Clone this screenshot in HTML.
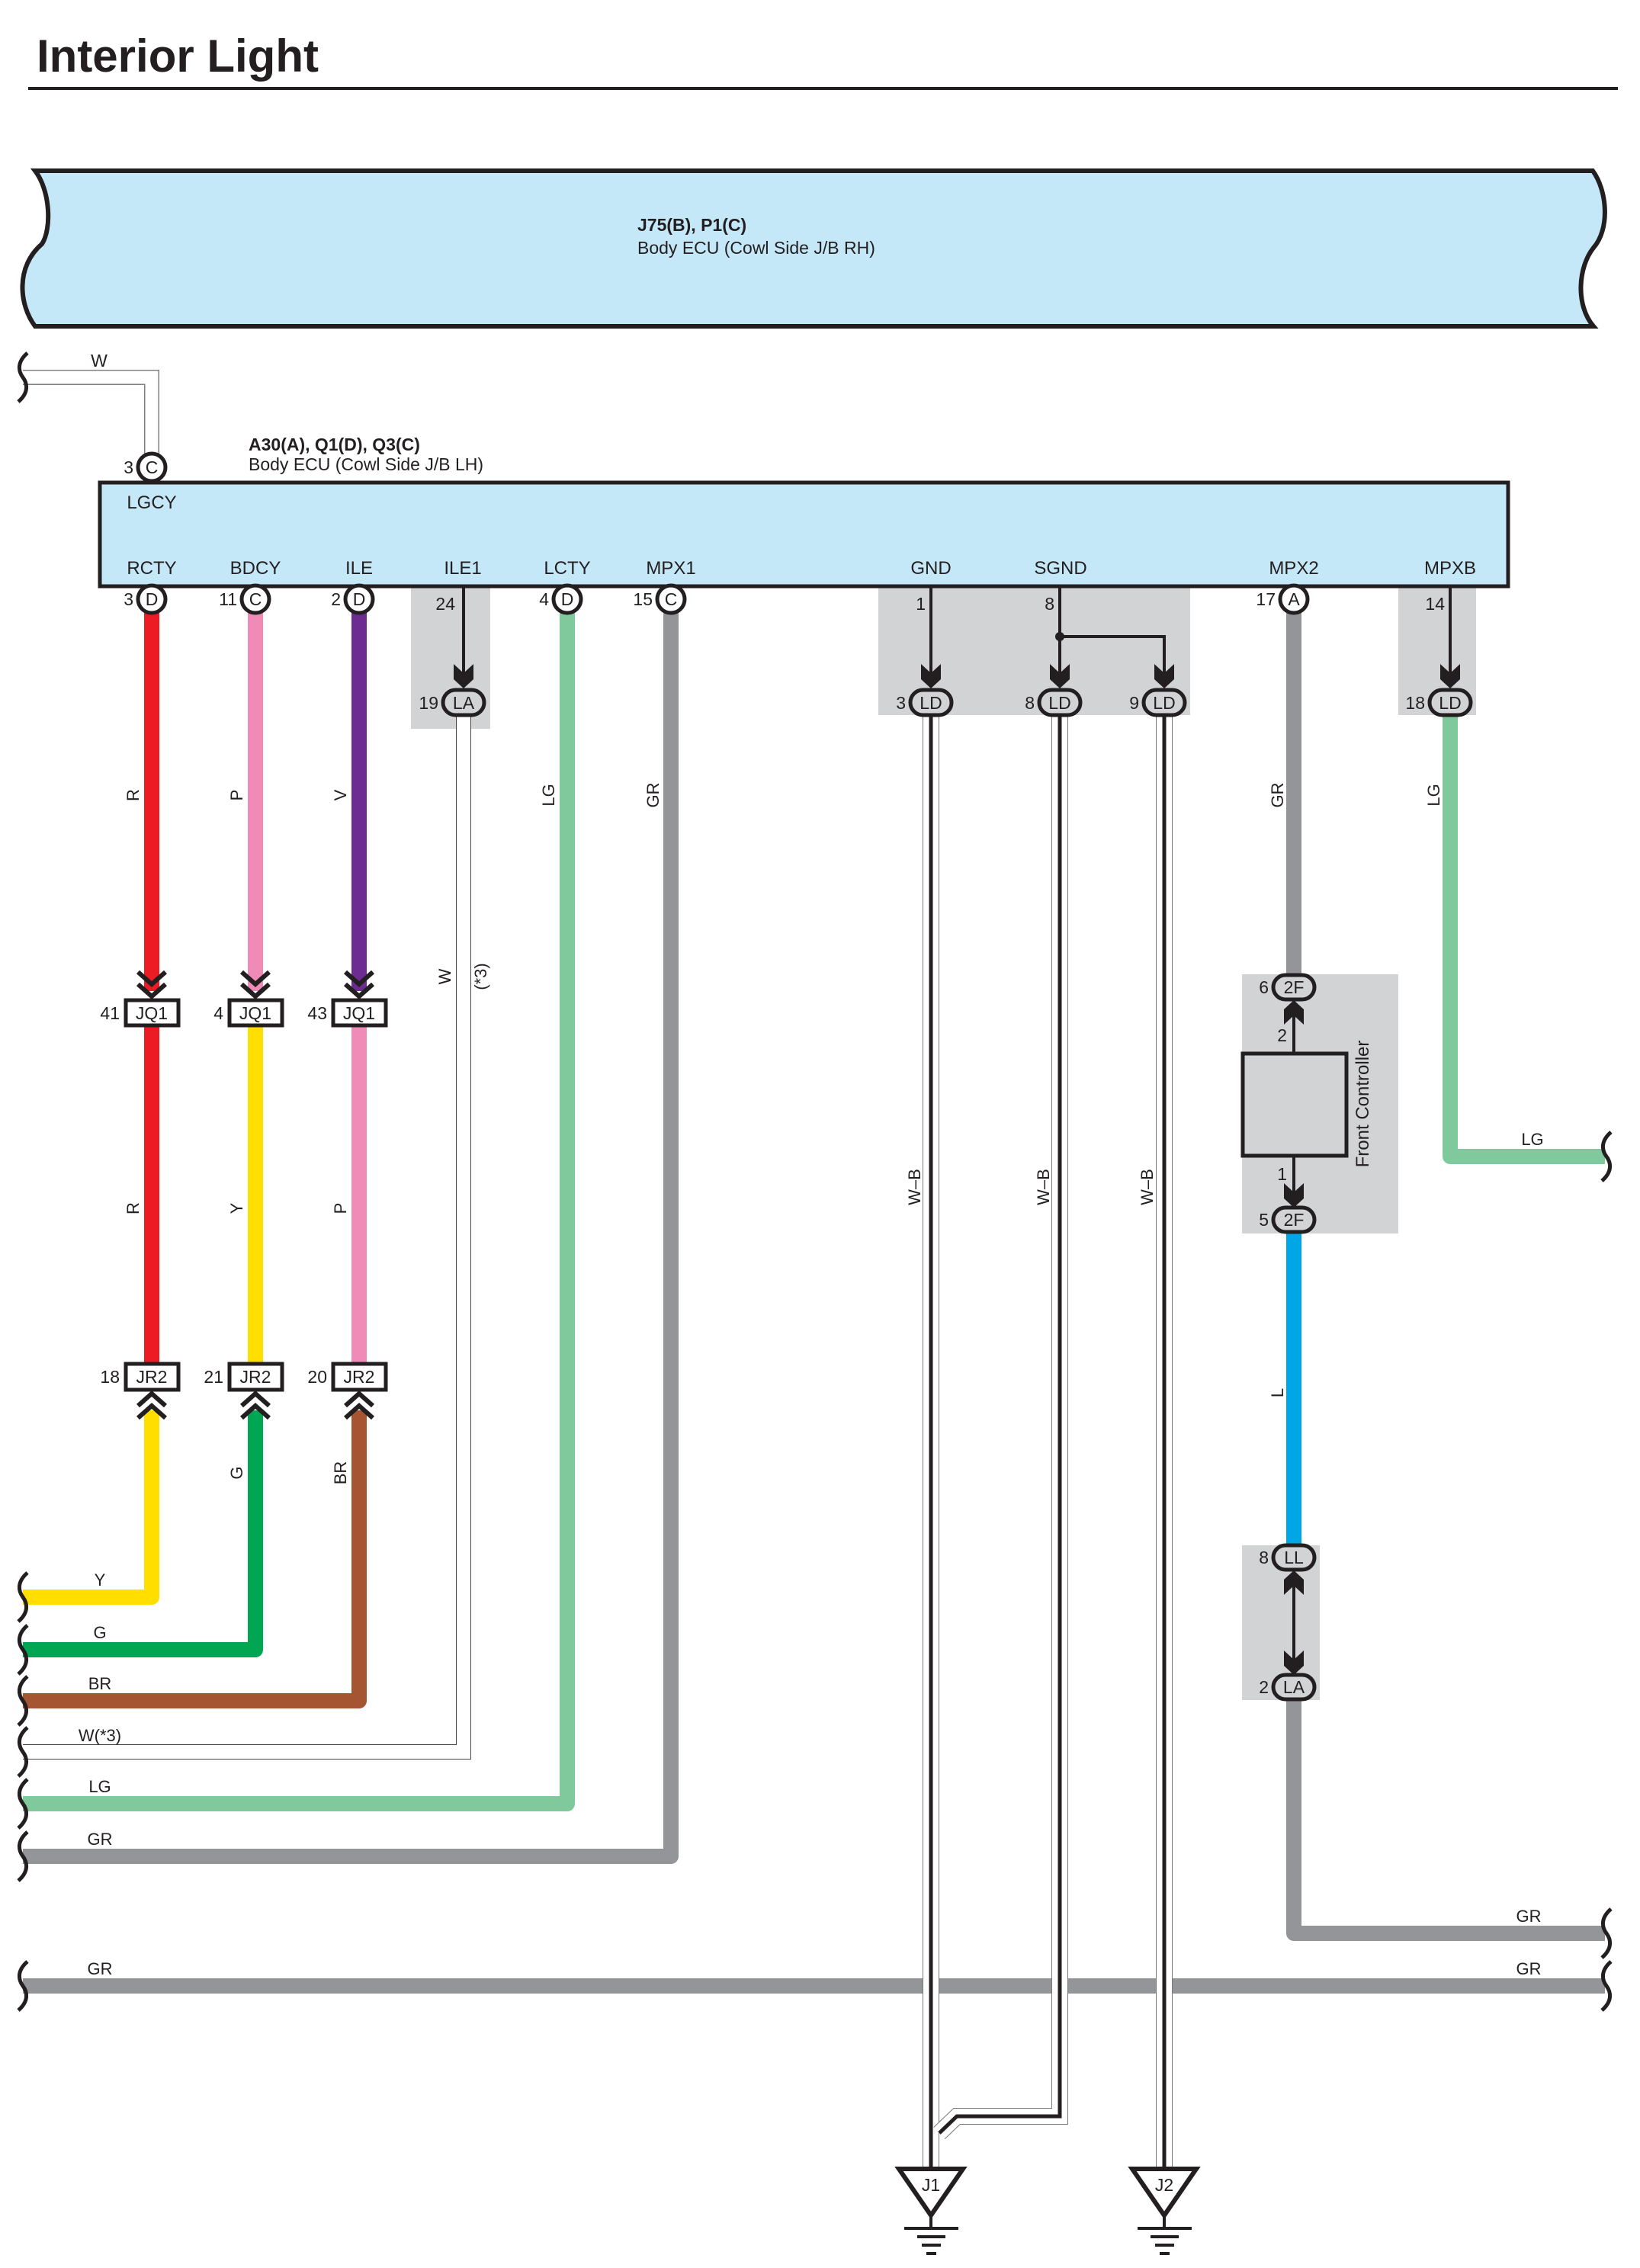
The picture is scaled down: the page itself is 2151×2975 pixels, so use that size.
<!DOCTYPE html>
<html><head><meta charset="utf-8"><style>
html,body{margin:0;padding:0;background:#fff}
svg{display:block}
text{font-family:"Liberation Sans",sans-serif;fill:#231f20}
</style></head><body>
<svg width="2151" height="2975" viewBox="0 0 2151 2975" xmlns="http://www.w3.org/2000/svg">
<defs>
<g id="chevD"><path d="M-18,-34 L0,-18 L18,-34 M-18,-18 L0,-2 L18,-18" fill="none" stroke="#231f20" stroke-width="6"/></g>
<g id="chevU"><path d="M-18,34 L0,18 L18,34 M-18,18 L0,2 L18,18" fill="none" stroke="#231f20" stroke-width="6"/></g>
<g id="arrD"><path d="M-13,-32 L0,-20 L13,-32 L13,-12 L0,0 L-13,-12 Z" fill="#231f20"/></g>
<g id="arrU"><path d="M-13,32 L0,20 L13,32 L13,12 L0,0 L-13,12 Z" fill="#231f20"/></g>
<path id="sq" d="M6,-32 C-8,-20 -6,-8 0,0 C6,8 8,20 -6,32" fill="none" stroke="#231f20" stroke-width="5"/>
</defs>

<!-- title -->
<text x="48" y="94" font-size="60" font-weight="bold">Interior Light</text>
<rect x="37" y="114" width="2085" height="4" fill="#231f20"/>

<!-- top ECU -->
<path d="M46,224 L2089,224 C2108,250 2112,300 2090,325 C2070,350 2066,400 2090,428 L46,428 C25,400 20,350 55,320 C68,300 66,250 46,224 Z" fill="#c5e8f8" stroke="#231f20" stroke-width="6"/>
<text x="836" y="303" font-size="23" font-weight="bold">J75(B), P1(C)</text>
<text x="836" y="333" font-size="23">Body ECU (Cowl Side J/B RH)</text>

<!-- W top wire -->
<path d="M30,495 L199,495 L199,595" fill="none" stroke="#808080" stroke-width="20"/>
<path d="M30,495 L199,495 L199,595" fill="none" stroke="#fff" stroke-width="17"/>
<use href="#sq" x="30" y="495"/>
<text x="130" y="481" font-size="23" text-anchor="middle">W</text>

<text x="326" y="591" font-size="23" font-weight="bold">A30(A), Q1(D), Q3(C)</text>
<text x="326" y="617" font-size="23">Body ECU (Cowl Side J/B LH)</text>

<!-- shaded regions -->
<rect x="539" y="771" width="104" height="185" fill="#d1d3d4"/>
<rect x="1152" y="771" width="409" height="167" fill="#d1d3d4"/>
<rect x="1834" y="771" width="102" height="167" fill="#d1d3d4"/>
<rect x="1629" y="1278" width="205" height="340" fill="#d1d3d4"/>
<rect x="1629" y="2027" width="102" height="203" fill="#d1d3d4"/>

<!-- lower ECU -->
<rect x="131" y="633" width="1847" height="136" fill="#c5e8f8" stroke="#231f20" stroke-width="5"/>
<g font-size="24" text-anchor="middle">
<text x="199" y="667">LGCY</text>
<text x="199" y="753">RCTY</text><text x="335" y="753">BDCY</text><text x="471" y="753">ILE</text>
<text x="607" y="753">ILE1</text><text x="744" y="753">LCTY</text><text x="880" y="753">MPX1</text>
<text x="1221" y="753">GND</text><text x="1391" y="753">SGND</text><text x="1697" y="753">MPX2</text><text x="1902" y="753">MPXB</text>
</g>

<!-- wires (colored) -->
<g fill="none" stroke-width="20" stroke-linejoin="round" stroke-linecap="butt">
<path d="M199,800 L199,1300" stroke="#ed1c24"/>
<path d="M335,800 L335,1300" stroke="#f08ab6"/>
<path d="M471,800 L471,1300" stroke="#6d2c91"/>
<path d="M199,1347 L199,1787" stroke="#ed1c24"/>
<path d="M335,1347 L335,1787" stroke="#ffde00"/>
<path d="M471,1347 L471,1787" stroke="#f08ab6"/>
<path d="M199,1850 L199,2095 L30,2095" stroke="#ffde00"/>
<path d="M335,1850 L335,2164 L30,2164" stroke="#00a651"/>
<path d="M471,1850 L471,2231 L30,2231" stroke="#a65533"/>
<path d="M744,800 L744,2366 L30,2366" stroke="#80c99c"/>
<path d="M880,800 L880,2435 L30,2435" stroke="#939598"/>
<path d="M30,2605 L2105,2605" stroke="#939598"/>
<path d="M1697,800 L1697,1280" stroke="#939598"/>
<path d="M1697,1612 L1697,2030" stroke="#00a6e6"/>
<path d="M1697,2225 L1697,2536 L2105,2536" stroke="#939598"/>
<path d="M1902,935 L1902,1517 L2105,1517" stroke="#80c99c"/>
</g>

<!-- W(*3) thin wire -->
<path d="M608,938 L608,2298 L30,2298" fill="none" stroke="#444" stroke-width="20"/>
<path d="M608,938 L608,2298 L30,2298" fill="none" stroke="#fff" stroke-width="18"/>

<!-- W-B wires -->
<g fill="none">
<path d="M1221,938 L1221,2845" stroke="#777" stroke-width="22"/>
<path d="M1221,938 L1221,2845" stroke="#fff" stroke-width="20"/>
<path d="M1221,938 L1221,2845" stroke="#231f20" stroke-width="5"/>
<path d="M1390,938 L1390,2776 L1255,2776 L1232,2798" stroke="#777" stroke-width="22"/>
<path d="M1390,938 L1390,2776 L1255,2776 L1232,2798" stroke="#fff" stroke-width="20"/>
<path d="M1390,938 L1390,2776 L1255,2776 L1232,2798" stroke="#231f20" stroke-width="5"/>
<path d="M1527,938 L1527,2845" stroke="#777" stroke-width="22"/>
<path d="M1527,938 L1527,2845" stroke="#fff" stroke-width="20"/>
<path d="M1527,938 L1527,2845" stroke="#231f20" stroke-width="5"/>
</g>

<!-- squiggles -->
<g>
<use href="#sq" x="30" y="2095"/><use href="#sq" x="30" y="2164"/><use href="#sq" x="30" y="2231"/>
<use href="#sq" x="30" y="2298"/><use href="#sq" x="30" y="2366"/><use href="#sq" x="30" y="2435"/>
<use href="#sq" x="30" y="2605"/>
<use href="#sq" x="2107" y="1517"/><use href="#sq" x="2107" y="2536"/><use href="#sq" x="2107" y="2605"/>
</g>

<!-- connectors circles -->
<g fill="#fff" stroke="#231f20" stroke-width="5">
<circle cx="199" cy="613" r="18"/>
<circle cx="199" cy="786" r="18"/><circle cx="335" cy="786" r="18"/><circle cx="471" cy="786" r="18"/>
<circle cx="744" cy="786" r="18"/><circle cx="880" cy="786" r="18"/><circle cx="1697" cy="786" r="18"/>
</g>
<g font-size="23" text-anchor="middle">
<text x="199" y="621">C</text><text x="199" y="794">D</text><text x="335" y="794">C</text><text x="471" y="794">D</text>
<text x="744" y="794">D</text><text x="880" y="794">C</text><text x="1697" y="794">A</text>
</g>
<g font-size="23" text-anchor="end">
<text x="175" y="621">3</text><text x="175" y="794">3</text><text x="311" y="794">11</text><text x="447" y="794">2</text>
<text x="720" y="794">4</text><text x="856" y="794">15</text><text x="1673" y="794">17</text>
<text x="597" y="800">24</text><text x="1214" y="800">1</text><text x="1383" y="800">8</text><text x="1895" y="800">14</text>
</g>

<!-- arrows from ECU -->
<g stroke="#231f20" stroke-width="4" fill="none">
<path d="M608,769 L608,895"/><path d="M1221,769 L1221,895"/><path d="M1390,769 L1390,895"/>
<path d="M1390,835 L1527,835 L1527,895"/><path d="M1902,769 L1902,895"/>
<path d="M1697,1380 L1697,1320"/><path d="M1697,1517 L1697,1575"/>
<path d="M1697,2065 L1697,2190"/>
</g>
<circle cx="1390" cy="835" r="6" fill="#231f20"/>
<use href="#arrD" x="608" y="903"/><use href="#arrD" x="1221" y="903"/><use href="#arrD" x="1390" y="903"/>
<use href="#arrD" x="1527" y="903"/><use href="#arrD" x="1902" y="903"/>
<use href="#arrU" x="1697" y="1312"/><use href="#arrD" x="1697" y="1584"/>
<use href="#arrU" x="1697" y="2060"/><use href="#arrD" x="1697" y="2197"/>

<!-- ovals -->
<g fill="#d1d3d4" stroke="#231f20" stroke-width="5">
<rect x="581" y="905" width="54" height="33" rx="16.5"/>
<rect x="1194" y="905" width="54" height="33" rx="16.5"/>
<rect x="1363" y="905" width="54" height="33" rx="16.5"/>
<rect x="1500" y="905" width="54" height="33" rx="16.5"/>
<rect x="1875" y="905" width="54" height="33" rx="16.5"/>
<rect x="1670" y="1279" width="54" height="32" rx="16"/>
<rect x="1670" y="1584" width="54" height="32" rx="16"/>
<rect x="1670" y="2027" width="54" height="32" rx="16"/>
<rect x="1670" y="2197" width="54" height="32" rx="16"/>
</g>
<g font-size="23" text-anchor="middle">
<text x="608" y="930">LA</text><text x="1221" y="930">LD</text><text x="1390" y="930">LD</text>
<text x="1527" y="930">LD</text><text x="1902" y="930">LD</text>
<text x="1697" y="1303">2F</text><text x="1697" y="1608">2F</text>
<text x="1697" y="2051">LL</text><text x="1697" y="2221">LA</text>
</g>
<g font-size="23" text-anchor="end">
<text x="575" y="930">19</text><text x="1188" y="930">3</text><text x="1357" y="930">8</text>
<text x="1494" y="930">9</text><text x="1869" y="930">18</text>
<text x="1664" y="1303">6</text><text x="1664" y="1608">5</text>
<text x="1664" y="2051">8</text><text x="1664" y="2221">2</text>
<text x="1688" y="1366">2</text><text x="1688" y="1548">1</text>
</g>

<!-- front controller -->
<rect x="1630" y="1382" width="136" height="134" fill="#d1d3d4" stroke="#231f20" stroke-width="5"/>
<text transform="translate(1795,1448) rotate(-90)" font-size="24" text-anchor="middle">Front Controller</text>

<!-- JQ1 / JR2 -->
<g fill="#fff" stroke="#231f20" stroke-width="5">
<rect x="165" y="1312" width="69" height="33"/><rect x="301" y="1312" width="69" height="33"/><rect x="437" y="1312" width="69" height="33"/>
<rect x="165" y="1789" width="69" height="34"/><rect x="301" y="1789" width="69" height="34"/><rect x="437" y="1789" width="69" height="34"/>
</g>
<use href="#chevD" x="199" y="1309"/><use href="#chevD" x="335" y="1309"/><use href="#chevD" x="471" y="1309"/>
<use href="#chevU" x="199" y="1826"/><use href="#chevU" x="335" y="1826"/><use href="#chevU" x="471" y="1826"/>
<g font-size="23" text-anchor="middle">
<text x="199" y="1337">JQ1</text><text x="335" y="1337">JQ1</text><text x="471" y="1337">JQ1</text>
<text x="199" y="1814">JR2</text><text x="335" y="1814">JR2</text><text x="471" y="1814">JR2</text>
</g>
<g font-size="23" text-anchor="end">
<text x="157" y="1337">41</text><text x="293" y="1337">4</text><text x="429" y="1337">43</text>
<text x="157" y="1814">18</text><text x="293" y="1814">21</text><text x="429" y="1814">20</text>
</g>

<!-- vertical wire labels -->
<g font-size="22" text-anchor="middle">
<text transform="translate(182,1043) rotate(-90)">R</text>
<text transform="translate(318,1043) rotate(-90)">P</text>
<text transform="translate(454,1043) rotate(-90)">V</text>
<text transform="translate(727,1043) rotate(-90)">LG</text>
<text transform="translate(864,1043) rotate(-90)">GR</text>
<text transform="translate(1683,1043) rotate(-90)">GR</text>
<text transform="translate(1888,1043) rotate(-90)">LG</text>
<text transform="translate(182,1585) rotate(-90)">R</text>
<text transform="translate(318,1585) rotate(-90)">Y</text>
<text transform="translate(454,1585) rotate(-90)">P</text>
<text transform="translate(318,1932) rotate(-90)">G</text>
<text transform="translate(454,1932) rotate(-90)">BR</text>
<text transform="translate(591,1281) rotate(-90)">W</text>
<text transform="translate(638,1281) rotate(-90)">(*3)</text>
<text transform="translate(1207,1557) rotate(-90)">W–B</text>
<text transform="translate(1376,1557) rotate(-90)">W–B</text>
<text transform="translate(1512,1557) rotate(-90)">W–B</text>
<text transform="translate(1683,1827) rotate(-90)">L</text>
</g>
<!-- horizontal wire labels -->
<g font-size="22" text-anchor="middle">
<text x="131" y="2080">Y</text><text x="131" y="2149">G</text><text x="131" y="2216">BR</text>
<text x="131" y="2284">W(*3)</text><text x="131" y="2351">LG</text><text x="131" y="2420">GR</text>
<text x="131" y="2590">GR</text>
<text x="2010" y="1502">LG</text><text x="2005" y="2521">GR</text><text x="2005" y="2590">GR</text>
</g>

<!-- grounds -->
<g stroke="#231f20" fill="#fff" stroke-width="6" stroke-linejoin="miter">
<path d="M1179,2845 L1263,2845 L1221,2906 Z"/>
<path d="M1485,2845 L1569,2845 L1527,2906 Z"/>
</g>
<g stroke="#231f20" stroke-width="4">
<path d="M1221,2906 L1221,2923 M1186,2923 L1257,2923 M1203,2934 L1240,2934 M1209,2945 L1234,2945 M1215,2956 L1228,2956"/>
<path d="M1527,2906 L1527,2923 M1492,2923 L1563,2923 M1509,2934 L1546,2934 M1515,2945 L1540,2945 M1521,2956 L1534,2956"/>
</g>
<g font-size="23" text-anchor="middle"><text x="1221" y="2874">J1</text><text x="1527" y="2874">J2</text></g>
</svg>
</body></html>
